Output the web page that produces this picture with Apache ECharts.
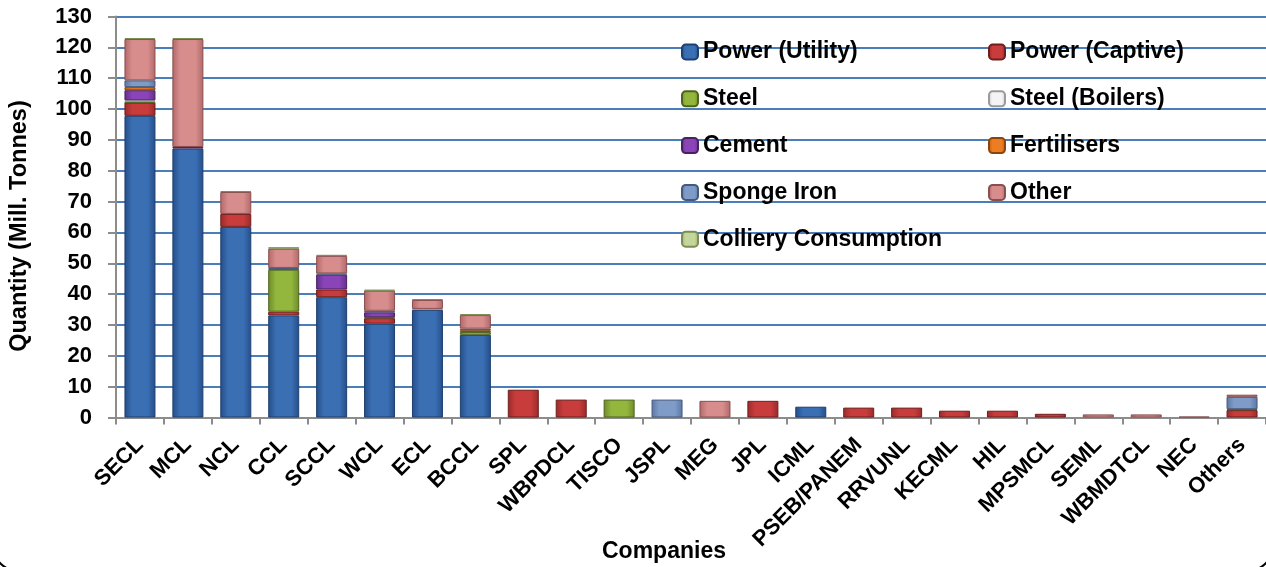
<!DOCTYPE html>
<html>
<head>
<meta charset="utf-8">
<title>Coal off-take by company</title>
<script src="https://cdn.jsdelivr.net/npm/echarts@6/dist/echarts.min.js"></script>
<style>
  html, body { margin: 0; padding: 0; background: #fff; }
  #chart { width: 1266px; height: 567px; }
</style>
</head>
<body>
<div id="chart"></div>
<script>
// categories on the x axis
var companies = ['SECL', 'MCL', 'NCL', 'CCL', 'SCCL', 'WCL', 'ECL', 'BCCL', 'SPL', 'WBPDCL', 'TISCO', 'JSPL',
  'MEG', 'JPL', 'ICML', 'PSEB/PANEM', 'RRVUNL', 'KECML', 'HIL', 'MPSMCL', 'SEML', 'WBMDTCL', 'NEC', 'Others']

// values per sector (Mill. Tonnes)
var powerUtility = [97.8, 87.2, 61.8, 33.1, 39.0, 30.4, 34.9, 26.8, 0, 0, 0, 0, 0, 0, 3.5, 0, 0, 0, 0, 0, 0, 0, 0, 0]
var powerCaptive = [4.3, 0, 4.2, 1.2, 2.5, 1.8, 0, 0, 9.0, 5.8, 0, 0, 0, 5.4, 0, 3.2, 3.2, 2.2, 2.2, 1.2, 0, 0, 0, 2.4]
var steel = [0.2, 0, 0, 13.6, 0, 0.3, 0, 0.9, 0, 0, 5.8, 0, 0, 0, 0, 0, 0, 0, 0, 0, 0, 0, 0, 0.3]
var steelBoilers = [0.5, 0, 0, 0, 0, 0, 0.3, 0, 0, 0, 0, 0, 0, 0, 0, 0, 0, 0, 0, 0, 0, 0, 0, 0]
var cement = [3.3, 0.5, 0, 0, 4.8, 1.6, 0, 0, 0, 0, 0, 0, 0, 0, 0, 0, 0, 0, 0, 0, 0, 0, 0, 0]
var fertilisers = [1.0, 0, 0, 0.3, 0, 0, 0, 0.6, 0, 0, 0, 0, 0, 0, 0, 0, 0, 0, 0, 0, 0, 0, 0, 0]
var spongeIron = [2.2, 0, 0, 0.3, 0.4, 0.5, 0, 0.5, 0, 0, 0, 5.8, 0, 0, 0, 0, 0, 0, 0, 0, 0, 0, 0, 4.0]
var other = [13.4, 35.0, 7.1, 6.2, 5.7, 6.5, 2.9, 4.4, 0, 0, 0, 0, 5.4, 0, 0, 0, 0, 0, 0, 0, 1.0, 1.0, 0.3, 0.7]
var collieryConsumption = [0.3, 0.3, 0.3, 0.5, 0.3, 0.3, 0.3, 0.3, 0, 0, 0, 0, 0, 0, 0, 0, 0, 0, 0, 0, 0, 0, 0, 0]

var yTicks = { min: 0, max: 130, interval: 10 }

var FONT = "'Liberation Sans', Arial, sans-serif"

var chart = echarts.init(document.getElementById('chart'))

function shade(c1, c2) {
  return new echarts.graphic.LinearGradient(0, 0, 1, 0, [
    { offset: 0, color: c2 },
    { offset: 0.25, color: c1 },
    { offset: 0.75, color: c1 },
    { offset: 1, color: c2 }
  ])
}

function makeSeries(name, data, c1, c2, border) {
  return {
    name: name,
    type: 'bar',
    stack: 'total',
    barWidth: 31,
    data: data.map(function (v) { return v === 0 ? '-' : v }),
    itemStyle: {
      color: shade(c1, c2),
      borderColor: border,
      borderWidth: 1
    },
    emphasis: { disabled: true },
    animation: false
  }
}

var series = [
  makeSeries('Power (Utility)', powerUtility, '#3a6fb4', '#244d88', '#1f3f6e'),
  makeSeries('Power (Captive)', powerCaptive, '#c83c3c', '#9a2a2a', '#6e1d1d'),
  makeSeries('Steel', steel, '#93b63d', '#6d8a2a', '#4f651f'),
  makeSeries('Steel (Boilers)', steelBoilers, '#f4f4f4', '#d0d0d0', '#9a9a9a'),
  makeSeries('Cement', cement, '#8a44b8', '#632f8a', '#48225f'),
  makeSeries('Fertilisers', fertilisers, '#ec7d22', '#c05f10', '#8a440c'),
  makeSeries('Sponge Iron', spongeIron, '#7f9bc8', '#5d77a3', '#44597c'),
  makeSeries('Other', other, '#d88d8d', '#b06868', '#8a4e4e'),
  makeSeries('Colliery Consumption', collieryConsumption, '#c3d69b', '#9db070', '#7d8d55')
]

var legendText = { fontFamily: FONT, fontWeight: 'bold', fontSize: 23, color: '#000', lineHeight: 30 }

chart.setOption({
  backgroundColor: '#fff',
  animation: false,
  title: {
    text: 'Companies',
    left: 597,
    top: 535,
    textStyle: { fontFamily: FONT, fontWeight: 'bold', fontSize: 23, color: '#000' }
  },
  legend: [
    {
      orient: 'vertical',
      left: 676,
      top: 32,
      itemWidth: 16,
      itemHeight: 15,
      itemGap: 16.8,
      selectedMode: false,
      textStyle: legendText,
      data: ['Power (Utility)', 'Steel', 'Cement', 'Sponge Iron', 'Colliery Consumption']
    },
    {
      orient: 'vertical',
      left: 983,
      top: 32,
      itemWidth: 16,
      itemHeight: 15,
      itemGap: 16.8,
      selectedMode: false,
      textStyle: legendText,
      data: ['Power (Captive)', 'Steel (Boilers)', 'Fertilisers', 'Other']
    }
  ],
  grid: {
    left: 113,
    top: 16.5,
    width: 1156,
    height: 401
  },
  xAxis: {
    type: 'category',
    data: companies,
    axisLine: { lineStyle: { color: '#8c8c8c', width: 2 } },
    axisTick: { show: true, length: 7, lineStyle: { color: '#8c8c8c', width: 2 } },
    axisLabel: {
      interval: 0,
      rotate: 45,
      margin: 24,
      fontFamily: FONT,
      fontWeight: 'bold',
      fontSize: 22,
      color: '#000'
    }
  },
  yAxis: {
    type: 'value',
    min: yTicks.min,
    max: yTicks.max,
    interval: yTicks.interval,
    name: 'Quantity (Mill. Tonnes)',
    nameLocation: 'middle',
    nameGap: 84,
    nameTextStyle: { fontFamily: FONT, fontWeight: 'bold', fontSize: 23.5, color: '#000', padding: [0, 18, 0, 0] },
    axisLine: { show: true, lineStyle: { color: '#8c8c8c', width: 2 } },
    axisTick: { show: true, length: 8, lineStyle: { color: '#8c8c8c', width: 2 } },
    axisLabel: {
      margin: 24,
      fontFamily: FONT,
      fontWeight: 'bold',
      fontSize: 22,
      color: '#000'
    },
    splitLine: { lineStyle: { color: '#4a7ebb', width: 2 } }
  },
  graphic: [
    {
      type: 'rect',
      silent: true,
      z: -1,
      shape: { x: -6, y: -30, width: 1278, height: 600, r: 22 },
      style: { fill: 'none', stroke: '#000', lineWidth: 2 }
    }
  ],
  series: series
})
</script>
</body>
</html>
